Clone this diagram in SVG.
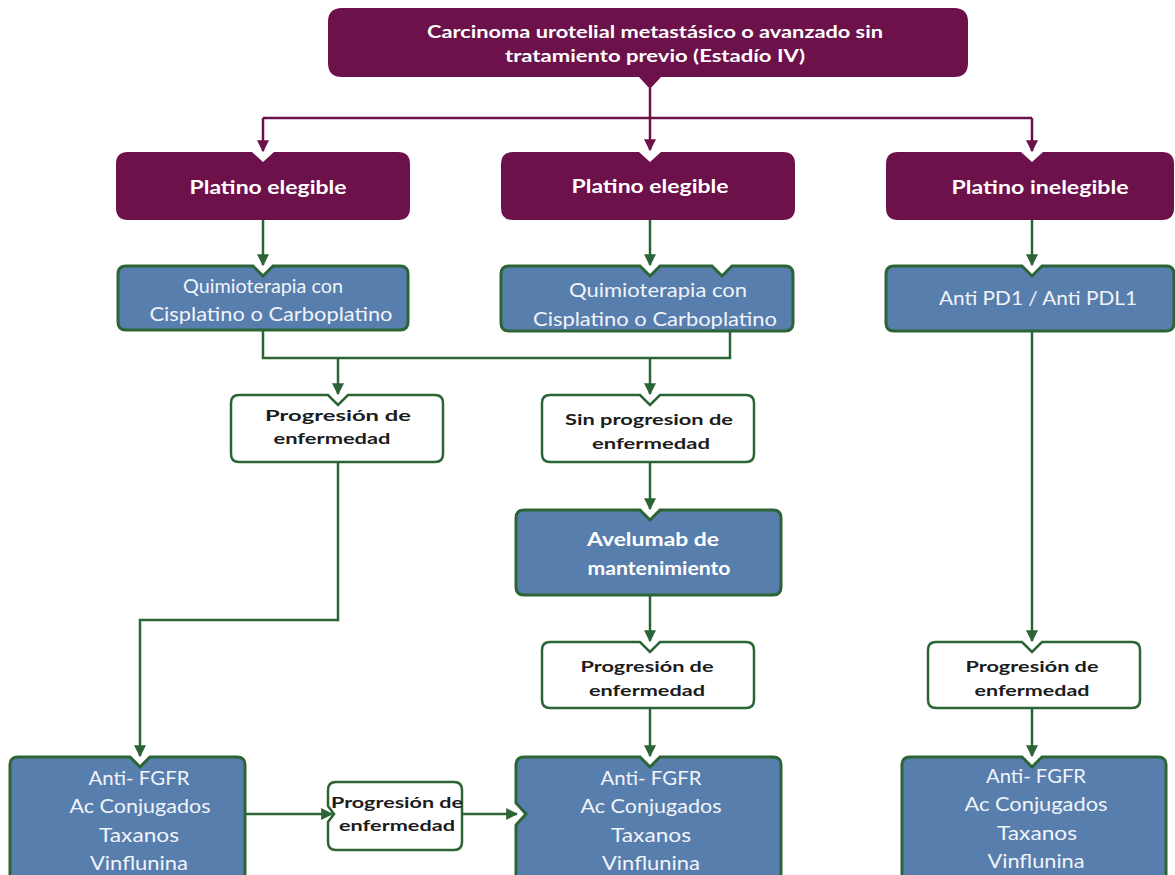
<svg xmlns="http://www.w3.org/2000/svg" width="1175" height="875" viewBox="0 0 1175 875">
<style>
.pur{fill:#6c1149;}
.blue{fill:#587ead;stroke:#2c6535;stroke-width:3;}
.wht{fill:#ffffff;stroke:#2c6535;stroke-width:2.5;}
.tw{font-family:Lato,"Liberation Sans",sans-serif;font-weight:bold;fill:#ffffff;text-anchor:middle;}
.tb{font-family:Lato,"Liberation Sans",sans-serif;fill:#f0f4f9;text-anchor:middle;font-size:19px;}
.tl{font-family:Lato,"Liberation Sans",sans-serif;fill:#f0f4f9;text-anchor:middle;font-size:20px;}
.td{font-family:Lato,"Liberation Sans",sans-serif;font-weight:bold;fill:#1c1c1c;text-anchor:middle;font-size:16px;}
.cg{fill:none;stroke:#2c6535;stroke-width:2.5;}
.cp{fill:none;stroke:#6c1149;stroke-width:2.5;}
</style>
<defs>
<marker id="ag" viewBox="0 0 10 10" refX="9" refY="5" markerWidth="12" markerHeight="12" markerUnits="userSpaceOnUse" orient="auto"><path d="M0,0 L10,5 L0,10 Z" fill="#2c6535"/></marker>
<marker id="ap" viewBox="0 0 10 10" refX="9" refY="5" markerWidth="12" markerHeight="12" markerUnits="userSpaceOnUse" orient="auto"><path d="M0,0 L10,5 L0,10 Z" fill="#6c1149"/></marker>
</defs>
<rect width="1175" height="875" fill="#ffffff"/>

<g id="connectors">
<path class="cp" d="M650,88 V150" marker-end="url(#ap)"/>
<path class="cp" d="M263,118 H1032"/>
<path class="cp" d="M263,118 V151" marker-end="url(#ap)"/>
<path class="cp" d="M1032,118 V151" marker-end="url(#ap)"/>
<path class="cg" d="M263,220 V265" marker-end="url(#ag)"/>
<path class="cg" d="M650,220 V265" marker-end="url(#ag)"/>
<path class="cg" d="M1032,220 V265" marker-end="url(#ag)"/>
<path class="cg" d="M263,331 V358 H730 V331"/>
<path class="cg" d="M338,358 V394" marker-end="url(#ag)"/>
<path class="cg" d="M650,358 V394" marker-end="url(#ag)"/>
<path class="cg" d="M338,462 V620 H140 V756" marker-end="url(#ag)"/>
<path class="cg" d="M650,462 V509" marker-end="url(#ag)"/>
<path class="cg" d="M650,595 V641" marker-end="url(#ag)"/>
<path class="cg" d="M650,708 V756" marker-end="url(#ag)"/>
<path class="cg" d="M1032,331 V641" marker-end="url(#ag)"/>
<path class="cg" d="M1032,708 V756" marker-end="url(#ag)"/>
<path class="cg" d="M245,814 H332" marker-end="url(#ag)"/>
<path class="cg" d="M462,814 H517" marker-end="url(#ag)"/>
</g>

<g id="n-top">
<path class="pur" d="M342,8 H954 Q968,8 968,22 V63 Q968,77 954,77 H661 L650,89 L639,77 H342 Q328,77 328,63 V22 Q328,8 342,8 Z"/>
<text class="tw" x="655" y="38" font-size="16.5" textLength="456" lengthAdjust="spacingAndGlyphs">Carcinoma urotelial metastásico o avanzado sin</text>
<text class="tw" x="655" y="62" font-size="16.5" textLength="300" lengthAdjust="spacingAndGlyphs">tratamiento previo (Estadío IV)</text>
</g>

<g id="n-p1">
<path class="pur" d="M128,152 H252 L263,162 L274,152 H398 Q410,152 410,164 V208 Q410,220 398,220 H128 Q116,220 116,208 V164 Q116,152 128,152 Z"/>
<text class="tw" x="268" y="194" font-size="19" textLength="157" lengthAdjust="spacingAndGlyphs">Platino elegible</text>
</g>
<g id="n-p2">
<path class="pur" d="M513,152 H639 L650,162 L661,152 H783 Q795,152 795,164 V208 Q795,220 783,220 H513 Q501,220 501,208 V164 Q501,152 513,152 Z"/>
<text class="tw" x="650" y="193" font-size="19" textLength="157" lengthAdjust="spacingAndGlyphs">Platino elegible</text>
</g>
<g id="n-p3">
<path class="pur" d="M898,152 H1021 L1032,162 L1043,152 H1162 Q1174,152 1174,164 V208 Q1174,220 1162,220 H898 Q886,220 886,208 V164 Q886,152 898,152 Z"/>
<text class="tw" x="1040" y="194" font-size="19" textLength="177" lengthAdjust="spacingAndGlyphs">Platino inelegible</text>
</g>

<g id="n-q1">
<path class="blue" d="M126,266 H253 L263,276 L273,266 H400 Q408,266 408,274 V322 Q408,330 400,330 H126 Q118,330 118,322 V274 Q118,266 126,266 Z"/>
<text class="tb" x="263" y="293" textLength="160" lengthAdjust="spacingAndGlyphs">Quimioterapia con</text>
<text class="tb" x="271" y="321" textLength="243" lengthAdjust="spacingAndGlyphs">Cisplatino o Carboplatino</text>
</g>
<g id="n-q2">
<path class="blue" d="M509,266 H640 L650,276 L660,266 H712 L722,276 L732,266 H785 Q793,266 793,274 V323 Q793,331 785,331 H509 Q501,331 501,323 V274 Q501,266 509,266 Z"/>
<text class="tb" x="658" y="297" textLength="178" lengthAdjust="spacingAndGlyphs">Quimioterapia con</text>
<text class="tb" x="655" y="326" textLength="244" lengthAdjust="spacingAndGlyphs">Cisplatino o Carboplatino</text>
</g>
<g id="n-q3">
<path class="blue" d="M894,266 H1022 L1032,276 L1042,266 H1166 Q1174,266 1174,274 V323 Q1174,331 1166,331 H894 Q886,331 886,323 V274 Q886,266 894,266 Z"/>
<text class="tb" x="1038" y="305" textLength="198" lengthAdjust="spacingAndGlyphs">Anti PD1 / Anti PDL1</text>
</g>

<g id="n-prog1">
<path class="wht" d="M239,395 H328 L338,405 L348,395 H435 Q443,395 443,403 V454 Q443,462 435,462 H239 Q231,462 231,454 V403 Q231,395 239,395 Z"/>
<text class="td" x="338" y="421" textLength="146" lengthAdjust="spacingAndGlyphs">Progresión de</text>
<text class="td" x="332" y="444" textLength="117" lengthAdjust="spacingAndGlyphs">enfermedad</text>
</g>
<g id="n-sinprog">
<path class="wht" d="M550,395 H640 L650,405 L660,395 H746 Q754,395 754,403 V454 Q754,462 746,462 H550 Q542,462 542,454 V403 Q542,395 550,395 Z"/>
<text class="td" x="649" y="425" textLength="168" lengthAdjust="spacingAndGlyphs">Sin progresion de</text>
<text class="td" x="651" y="449" textLength="118" lengthAdjust="spacingAndGlyphs">enfermedad</text>
</g>

<g id="n-avelumab">
<path class="blue" d="M524,510 H640 L650,520 L660,510 H773 Q781,510 781,518 V587 Q781,595 773,595 H524 Q516,595 516,587 V518 Q516,510 524,510 Z"/>
<text class="tw" x="653" y="546" font-size="19" textLength="132" lengthAdjust="spacingAndGlyphs">Avelumab de</text>
<text class="tw" x="659" y="575" font-size="19" textLength="143" lengthAdjust="spacingAndGlyphs">mantenimiento</text>
</g>

<g id="n-prog2">
<path class="wht" d="M550,642 H640 L650,652 L660,642 H746 Q754,642 754,650 V700 Q754,708 746,708 H550 Q542,708 542,700 V650 Q542,642 550,642 Z"/>
<text class="td" x="647" y="672" textLength="133" lengthAdjust="spacingAndGlyphs">Progresión de</text>
<text class="td" x="647" y="696" textLength="116" lengthAdjust="spacingAndGlyphs">enfermedad</text>
</g>
<g id="n-prog3">
<path class="wht" d="M936,642 H1022 L1032,652 L1042,642 H1132 Q1140,642 1140,650 V700 Q1140,708 1132,708 H936 Q928,708 928,700 V650 Q928,642 936,642 Z"/>
<text class="td" x="1032" y="672" textLength="133" lengthAdjust="spacingAndGlyphs">Progresión de</text>
<text class="td" x="1032" y="696" textLength="115" lengthAdjust="spacingAndGlyphs">enfermedad</text>
</g>

<g id="n-bl">
<path class="blue" d="M18,757 H130 L140,767 L150,757 H237 Q245,757 245,765 V882 Q245,890 237,890 H18 Q10,890 10,882 V765 Q10,757 18,757 Z"/>
<text class="tl" x="139" y="785" textLength="101" lengthAdjust="spacingAndGlyphs">Anti- FGFR</text>
<text class="tl" x="140" y="813" textLength="141" lengthAdjust="spacingAndGlyphs">Ac Conjugados</text>
<text class="tl" x="139" y="842" textLength="80" lengthAdjust="spacingAndGlyphs">Taxanos</text>
<text class="tl" x="139" y="870" textLength="98" lengthAdjust="spacingAndGlyphs">Vinflunina</text>
</g>
<g id="n-prog4">
<path class="wht" d="M336,782 H454 Q462,782 462,790 V842 Q462,850 454,850 H336 Q328,850 328,842 V822 L334,814 L328,806 V790 Q328,782 336,782 Z"/>
<text class="td" x="397" y="808" font-size="15" textLength="132" lengthAdjust="spacingAndGlyphs">Progresión de</text>
<text class="td" x="397" y="831" font-size="15" textLength="116" lengthAdjust="spacingAndGlyphs">enfermedad</text>
</g>
<g id="n-bm">
<path class="blue" d="M524,757 H640 L650,767 L660,757 H773 Q781,757 781,765 V882 Q781,890 773,890 H524 Q516,890 516,882 V825 L526,814 L516,803 V765 Q516,757 524,757 Z"/>
<text class="tl" x="651" y="785" textLength="101" lengthAdjust="spacingAndGlyphs">Anti- FGFR</text>
<text class="tl" x="651" y="813" textLength="141" lengthAdjust="spacingAndGlyphs">Ac Conjugados</text>
<text class="tl" x="651" y="842" textLength="80" lengthAdjust="spacingAndGlyphs">Taxanos</text>
<text class="tl" x="651" y="870" textLength="98" lengthAdjust="spacingAndGlyphs">Vinflunina</text>
</g>
<g id="n-br">
<path class="blue" d="M910,757 H1022 L1032,767 L1042,757 H1158 Q1166,757 1166,765 V882 Q1166,890 1158,890 H910 Q902,890 902,882 V765 Q902,757 910,757 Z"/>
<text class="tl" x="1036" y="783" textLength="100" lengthAdjust="spacingAndGlyphs">Anti- FGFR</text>
<text class="tl" x="1036" y="811" textLength="143" lengthAdjust="spacingAndGlyphs">Ac Conjugados</text>
<text class="tl" x="1037" y="840" textLength="80" lengthAdjust="spacingAndGlyphs">Taxanos</text>
<text class="tl" x="1036" y="868" textLength="97" lengthAdjust="spacingAndGlyphs">Vinflunina</text>
</g>
</svg>
